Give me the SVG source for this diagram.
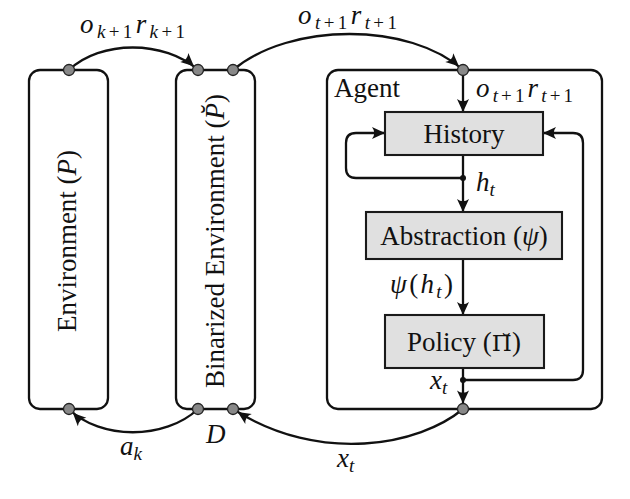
<svg xmlns="http://www.w3.org/2000/svg" width="630" height="499" viewBox="0 0 630 499" font-family="'Liberation Serif', 'Times New Roman', serif">
<defs>
<style>
.frame{fill:#fff;stroke:#111;stroke-width:2.3}
.blk{fill:#e0e0e0;stroke:#1a1a1a;stroke-width:2.1}
.wire{fill:none;stroke:#111;stroke-width:2.3}
.dot{fill:#888;stroke:#222;stroke-width:1.3}
.jn{fill:#111}
text{font-family:'Liberation Serif','Times New Roman',serif;font-size:27px;fill:#111}
.m{font-style:italic}
.s{font-size:19px}
.u{font-style:normal}
.dv{font-family:'DejaVu Serif',serif;font-size:23px}
</style>
<marker id="ah" viewBox="-14 -7 16 14" markerWidth="16" markerHeight="14" markerUnits="userSpaceOnUse" refX="0" refY="0" orient="auto" overflow="visible">
<path d="M0,0 L-13,-6 Q-8.5,0 -13,6 Z" fill="#111"/>
</marker>
<marker id="ahd" viewBox="-14 -7 22 14" markerWidth="22" markerHeight="14" markerUnits="userSpaceOnUse" refX="5.5" refY="0" orient="auto" overflow="visible">
<path d="M0,0 L-13,-6 Q-8.5,0 -13,6 Z" fill="#111"/>
</marker>
</defs>

<g id="environment">
<rect class="frame" x="29" y="70" width="79" height="339" rx="11"/>
<text transform="translate(76,241) rotate(-90)" text-anchor="middle">Environment (<tspan class="m">P</tspan>)</text>
</g>

<g id="binarized-environment">
<rect class="frame" x="176" y="70" width="79" height="339" rx="11"/>
<text transform="translate(224,241) rotate(-90)" text-anchor="middle">Binarized Environment (<tspan class="m">P̆</tspan>)</text>
</g>

<g id="agent">
<rect class="frame" x="327" y="70" width="275" height="339" rx="11"/>
<text x="334" y="97">Agent</text>
</g>

<g id="connectors">
<path class="wire" d="M69,70 C100,40 165,40 198,70" marker-end="url(#ahd)"/>
<path class="wire" d="M233,70 C290,22 410,22 463,70" marker-end="url(#ahd)"/>
<path class="wire" d="M463,70 L463,112" marker-end="url(#ah)"/>
<path class="wire" d="M463,155 L463,212" marker-end="url(#ah)"/>
<path class="wire" d="M463,178 L356,178 Q346,178 346,168 L346,143 Q346,133 356,133 L385,133" marker-end="url(#ah)"/>
<path class="wire" d="M463,259 L463,315" marker-end="url(#ah)"/>
<path class="wire" d="M463,368 L463,409" marker-end="url(#ahd)"/>
<path class="wire" d="M463,380 L573,380 Q583,380 583,370 L583,143 Q583,133 573,133 L543,133" marker-end="url(#ah)"/>
<path class="wire" d="M463,409 C420,445 320,465 233,409" marker-end="url(#ahd)"/>
<path class="wire" d="M198,409 C165,440 100,440 69,409" marker-end="url(#ahd)"/>
<circle class="jn" cx="463" cy="178" r="3"/>
<circle class="jn" cx="463" cy="380" r="3"/>
</g>

<g id="ports">
<circle class="dot" cx="69" cy="70" r="5.5"/>
<circle class="dot" cx="198" cy="70" r="5.5"/>
<circle class="dot" cx="233" cy="70" r="5.5"/>
<circle class="dot" cx="463" cy="70" r="5.5"/>
<circle class="dot" cx="69" cy="409" r="5.5"/>
<circle class="dot" cx="198" cy="409" r="5.5"/>
<circle class="dot" cx="233" cy="409" r="5.5"/>
<circle class="dot" cx="463" cy="409" r="5.5"/>
</g>

<g id="history">
<rect class="blk" x="385" y="112" width="158" height="43"/>
<text x="464" y="143" text-anchor="middle">History</text>
</g>

<g id="abstraction">
<rect class="blk" x="366" y="212" width="196" height="47"/>
<text x="464" y="245" text-anchor="middle">Abstraction (<tspan class="m">ψ</tspan>)</text>
</g>

<g id="policy">
<rect class="blk" x="385" y="315" width="159" height="53"/>
<text x="464" y="351" text-anchor="middle">Policy (<tspan class="dv">Π̆</tspan>)</text>
</g>

<g id="labels">
<text x="80" y="33" class="m" textLength="105" lengthAdjust="spacing">o<tspan class="s" dy="5">k<tspan class="u">+1</tspan></tspan><tspan dy="-5">r</tspan><tspan class="s" dy="5">k<tspan class="u">+1</tspan></tspan></text>
<text x="298" y="24" class="m" textLength="99" lengthAdjust="spacing">o<tspan class="s" dy="5">t<tspan class="u">+1</tspan></tspan><tspan dy="-5">r</tspan><tspan class="s" dy="5">t<tspan class="u">+1</tspan></tspan></text>
<text x="476" y="97" class="m" textLength="97" lengthAdjust="spacing">o<tspan class="s" dy="5">t<tspan class="u">+1</tspan></tspan><tspan dy="-5">r</tspan><tspan class="s" dy="5">t<tspan class="u">+1</tspan></tspan></text>
<text x="476" y="191" class="m">h<tspan class="s" dy="5">t</tspan></text>
<text x="390" y="293" class="m" textLength="63" lengthAdjust="spacing">ψ<tspan class="u">(</tspan>h<tspan class="s" dy="5">t</tspan><tspan class="u" dy="-5">)</tspan></text>
<text x="430" y="389" class="m">x<tspan class="s" dy="5">t</tspan></text>
<text x="337" y="467" class="m">x<tspan class="s" dy="5">t</tspan></text>
<text x="120" y="455" class="m">a<tspan class="s" dy="5">k</tspan></text>
<text x="206" y="443" class="m">D</text>
</g>
</svg>
